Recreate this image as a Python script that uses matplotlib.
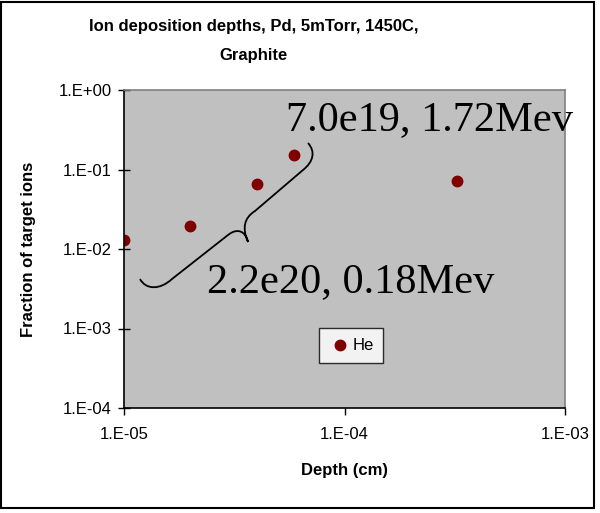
import matplotlib
matplotlib.use('Agg')
import matplotlib.pyplot as plt
from matplotlib.path import Path
from matplotlib.patches import PathPatch, Rectangle
from matplotlib.ticker import FixedLocator, NullLocator

depth = [1.0e-5, 2.0e-5, 4.0e-5, 5.9e-5, 3.24e-4]
fraction = [0.013, 0.0195, 0.066, 0.152, 0.0716]
series_name = 'He'
xticks = [1e-5, 1e-4, 1e-3]
xtick_labels = ['1.E-05', '1.E-04', '1.E-03']
yticks = [1e-4, 1e-3, 1e-2, 1e-1, 1e0]
ytick_labels = ['1.E-04', '1.E-03', '1.E-02', '1.E-01', '1.E+00']

W, H = 600, 513
fig = plt.figure(figsize=(W / 100, H / 100), dpi=100)
plt.rcParams['font.family'] = 'Liberation Sans'

# plot area in pixels: left 124, right 565, top 90, bottom 408
ax = fig.add_axes([124 / W, 1 - 408 / H, 441 / W, 318 / H])
ax.set_facecolor('#c0c0c0')
for s in ax.spines.values():
    s.set_color('#808080')
    s.set_linewidth(1.2)
ax.spines['left'].set_color('black')
ax.spines['bottom'].set_color('black')

ax.plot(depth, fraction, 'o', color='#800000', markersize=7.5, label=series_name)
ax.set_xscale('log')
ax.set_yscale('log')
ax.set_xlim(1e-5, 1e-3)
ax.set_ylim(1e-4, 1)
ax.xaxis.set_major_locator(FixedLocator(xticks))
ax.yaxis.set_major_locator(FixedLocator(yticks))
ax.xaxis.set_minor_locator(NullLocator())
ax.yaxis.set_minor_locator(NullLocator())
ax.set_xticklabels(xtick_labels)
ax.set_yticklabels(ytick_labels)
ax.tick_params(axis='x', direction='out', length=5, width=1, labelsize=12, pad=9)
ax.tick_params(axis='y', direction='inout', length=8, width=1, labelsize=12, pad=5)

ax.set_xlabel('Depth (cm)', fontsize=12, fontweight='bold', va='center')
ax.xaxis.set_label_coords(0.5, (408 - 471) / 318)
ax.set_ylabel('Fraction of target ions', fontsize=12, fontweight='bold', va='center')
ax.yaxis.set_label_coords((29 - 124) / 441, 0.5)

fig.text(254 / W, 1 - 41 / H, 'Ion deposition depths, Pd, 5mTorr, 1450C,\nGraphite',
         ha='center', va='center', fontsize=12, fontweight='bold', linespacing=2.15)

leg = ax.legend(loc='center', bbox_to_anchor=(0.515, 0.195), frameon=True, fancybox=False,
                fontsize=12, handletextpad=0.1, borderpad=0.6, handlelength=1.3,
                borderaxespad=0)
leg.get_frame().set_edgecolor('black')
leg.get_frame().set_facecolor('white')
leg.get_frame().set_linewidth(1)


# annotation: curly brace and labels, given in plot-area pixels
def px(x, y):
    return ((x - 124) / 441, (408 - y) / 318)


verts = [px(140, 279),
         px(146, 290), px(160, 290), px(172, 279),
         px(228, 235),
         px(238, 227), px(246, 232), px(248, 242),
         px(242, 228), px(244, 218), px(255, 211),
         px(303, 170),
         px(313, 162), px(316, 152), px(308, 143)]
codes = [Path.MOVETO,
         Path.CURVE4, Path.CURVE4, Path.CURVE4,
         Path.LINETO,
         Path.CURVE4, Path.CURVE4, Path.CURVE4,
         Path.CURVE4, Path.CURVE4, Path.CURVE4,
         Path.LINETO,
         Path.CURVE4, Path.CURVE4, Path.CURVE4]
ax.add_patch(PathPatch(Path(verts, codes), transform=ax.transAxes, facecolor='none',
                       edgecolor='black', linewidth=1.3, clip_on=False))

ax.text(*px(286, 130), '7.0e19, 1.72Mev', transform=ax.transAxes, family='Liberation Serif',
        fontsize=30.5, ha='left', va='baseline', clip_on=False)
ax.text(*px(207, 292), '2.2e20, 0.18Mev', transform=ax.transAxes, family='Liberation Serif',
        fontsize=30.5, ha='left', va='baseline', clip_on=False)

# chart frame
fig.add_artist(Rectangle((1 / W, 1 - 508 / H), 593 / W, 506 / H, transform=fig.transFigure,
                         fill=False, edgecolor='black', linewidth=1.5))

fig.savefig('out.png', dpi=100)
